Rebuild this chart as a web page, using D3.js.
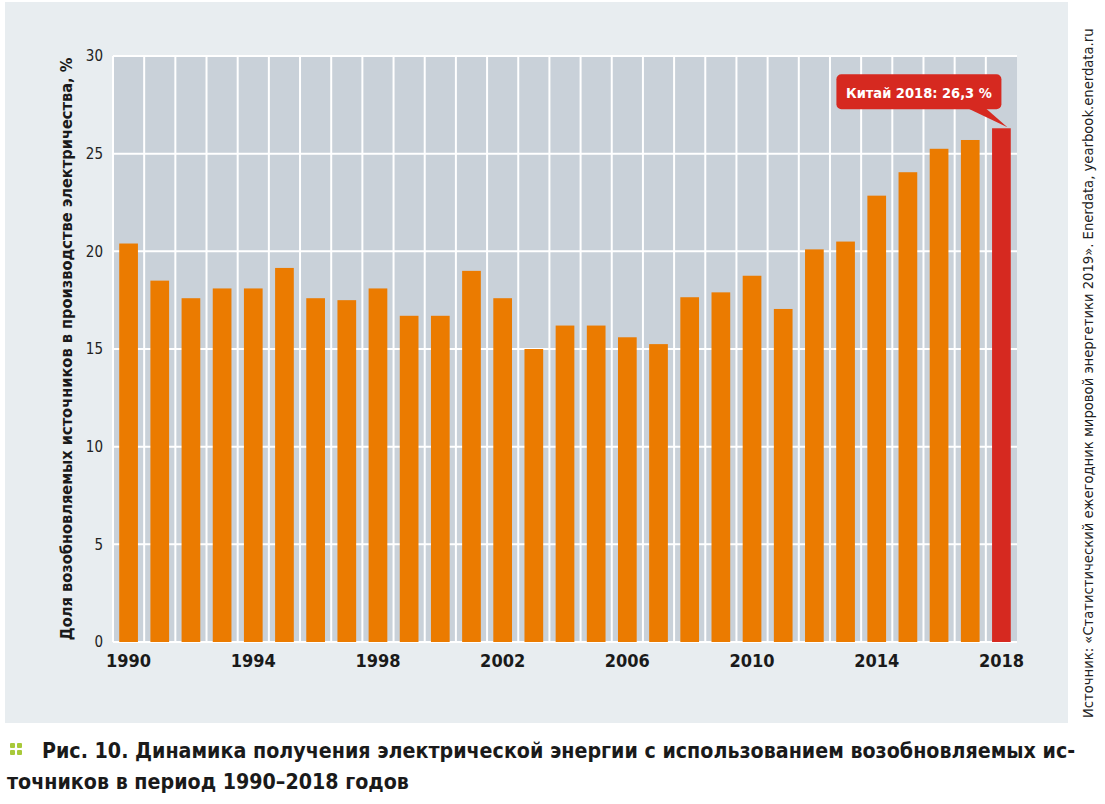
<!DOCTYPE html>
<html><head><meta charset="utf-8">
<script src="https://cdn.jsdelivr.net/npm/d3@7"></script>
<style>
body{margin:0;background:#fff;}
svg{display:block;}
</style></head>
<body>
<svg id="c" width="1105" height="804"></svg>
<script>
const years = d3.range(1990, 2019);
const values = [20.4,18.5,17.6,18.1,18.1,19.15,17.6,17.5,18.1,16.7,16.7,19.0,17.6,15.0,16.2,16.2,15.6,15.25,17.65,17.9,18.75,17.05,20.1,20.5,22.85,24.05,25.25,25.7,26.3];
const yTicks = [0,5,10,15,20,25,30];
const xTickYears = [1990,1994,1998,2002,2006,2010,2014,2018];
const highlightYear = 2018;
const annotationText = "Китай 2018: 26,3 %";
const yTitle = "Доля возобновляемых источников в производстве электричества, %";
const captionLine1Bold = "Рис. 10";
const captionLine1 = ". Динамика получения электрической энергии с использованием возобновляемых ис-";
const captionLine2 = "точников в период 1990–2018 годов";
const sourceText = "Источник: «Статистический ежегодник мировой энергетики 2019». Enerdata, yearbook.enerdata.ru";

const COND = "'DejaVu Sans Condensed','Liberation Sans Narrow',sans-serif";
const svg = d3.select("#c");
const L = 113, R = 1017, T = 56, B = 642;

function fit(sel, target, size){
  sel.attr("font-size", size);
  const w = sel.node().getComputedTextLength();
  if (w > target) sel.attr("font-size", (size*target/w).toFixed(2));
  return sel;
}

svg.append("rect").attr("x",5).attr("y",2).attr("width",1063).attr("height",721).attr("fill","#e8edf0");
svg.append("rect").attr("x",L).attr("y",T).attr("width",R-L).attr("height",B-T).attr("fill","#c9d1d9");

const x = d3.scaleBand().domain(years).range([L,R]).padding(0);
const y = d3.scaleLinear().domain([0,30]).range([B,T]);

svg.append("g").selectAll("line").data(yTicks).join("line")
  .attr("x1",L).attr("x2",R).attr("y1",d=>y(d)).attr("y2",d=>y(d))
  .attr("stroke","#fff").attr("stroke-width",2);
svg.append("g").selectAll("line").data(years).join("line")
  .attr("x1",d=>x(d)).attr("x2",d=>x(d)).attr("y1",T).attr("y2",B)
  .attr("stroke","#fff").attr("stroke-width",2);

svg.append("g").selectAll("rect").data(years).join("rect")
  .attr("x",d=>x(d)+x.bandwidth()*0.2)
  .attr("width",x.bandwidth()*0.6)
  .attr("y",(d,i)=>y(values[i]))
  .attr("height",(d,i)=>y(0)-y(values[i]))
  .attr("fill",d=>d===highlightYear?"#d62920":"#eb7b00");

const ya = svg.append("g").attr("transform",`translate(${L-4},0)`)
  .call(d3.axisLeft(y).tickValues(yTicks).tickSize(0).tickPadding(6));
ya.select(".domain").remove();
ya.selectAll("text").attr("font-family",COND).attr("font-size",15).attr("fill","#222");

const xa = svg.append("g").attr("transform",`translate(0,${B})`)
  .call(d3.axisBottom(x).tickValues(xTickYears).tickSize(0).tickPadding(12));
xa.select(".domain").remove();
xa.selectAll("text").attr("font-family",COND).attr("font-size",18).attr("font-weight","bold").attr("fill","#1a1a1a");

const yt = svg.append("text").attr("transform",`translate(72,${(T+B)/2}) rotate(-90)`)
  .attr("text-anchor","middle").attr("font-family",COND).attr("font-weight","bold")
  .attr("fill","#1a1a1a").text(yTitle);
fit(yt, 583, 17);

const hx = x(highlightYear)+x.bandwidth()/2, hy = y(values[years.indexOf(highlightYear)]);
const ag = svg.append("g");
ag.append("path").attr("d",`M${hx-38},${hy-22} L${hx+6},${hy-1} L${hx-18},${hy-22} Z`).attr("fill","#d62920");
ag.append("rect").attr("x",hx-165).attr("y",hy-54).attr("width",165).attr("height",35).attr("rx",5).attr("fill","#d62920");
const at = ag.append("text").attr("x",hx-82.5).attr("y",hy-30).attr("text-anchor","middle")
  .attr("font-family",COND).attr("font-weight","bold").attr("fill","#fff").text(annotationText);
fit(at, 146, 17);

const st = svg.append("text").attr("transform",`translate(1093,718) rotate(-90)`)
  .attr("font-family",COND).attr("fill","#222").text(sourceText);
fit(st, 690, 15);

const dots = svg.append("g").attr("fill","#a8c93a");
[[10,743],[17,743],[10,750],[17,750]].forEach(p=>dots.append("rect").attr("x",p[0]).attr("y",p[1]).attr("width",5).attr("height",5).attr("rx",1));
const c1 = svg.append("text").attr("x",42).attr("y",758).attr("font-family",COND).attr("font-weight","bold").attr("fill","#1a1a1a");
c1.append("tspan").text(captionLine1Bold);
c1.append("tspan").text(captionLine1);
fit(c1, 1033, 22);
const c2 = svg.append("text").attr("x",7).attr("y",789).attr("font-family",COND).attr("font-weight","bold").attr("fill","#1a1a1a")
  .text(captionLine2).attr("font-size", c1.attr("font-size"));
</script>
</body></html>
